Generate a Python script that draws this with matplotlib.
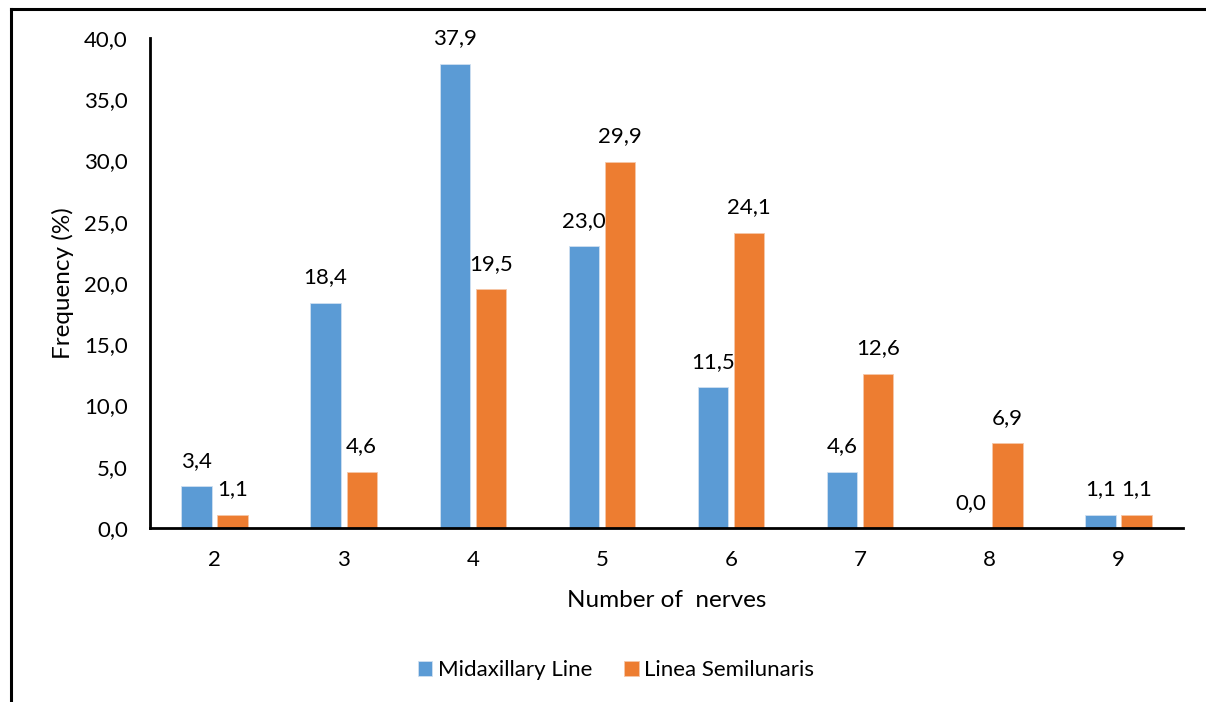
import numpy as np
import matplotlib.pyplot as plt
from matplotlib.lines import Line2D

plt.rcParams['font.family'] = ['Lato', 'DejaVu Sans']

categories = ['2', '3', '4', '5', '6', '7', '8', '9']
midaxillary = [3.4, 18.4, 37.9, 23.0, 11.5, 4.6, 0.0, 1.1]
semilunaris = [1.1, 4.6, 19.5, 29.9, 24.1, 12.6, 6.9, 1.1]
series_names = ['Midaxillary Line', 'Linea Semilunaris']
colors = ['#5B9BD5', '#ED7D31']

fig = plt.figure(figsize=(12.06, 7.02), dpi=100)
ax = fig.add_axes([150 / 1206, 1 - 528 / 702, (1183 - 150) / 1206, (528 - 38) / 702])

x = np.arange(len(categories))
w = 0.235
off = 0.14
b1 = ax.bar(x - off, midaxillary, w, color=colors[0], edgecolor='#cfe0f1', linewidth=0.6, label=series_names[0])
b2 = ax.bar(x + off, semilunaris, w, color=colors[1], edgecolor='#f6c7a8', linewidth=0.6, label=series_names[1])

for bars, vals in ((b1, midaxillary), (b2, semilunaris)):
    for b, v in zip(bars, vals):
        ax.annotate(f'{v:.1f}'.replace('.', ','), (b.get_x() + b.get_width() / 2, v),
                    xytext=(0, 11), textcoords='offset points', ha='center', va='bottom',
                    fontsize=16, color='black')

ax.set_xlim(-0.5, len(categories) - 0.5)
ax.set_ylim(0, 40)
ax.set_yticks(np.arange(0, 41, 5))
ax.set_yticklabels([f'{t:.1f}'.replace('.', ',') for t in np.arange(0, 41, 5)])
ax.set_xticks(x)
ax.set_xticklabels(categories)
ax.tick_params(axis='both', length=0, labelsize=16, colors='black')
ax.tick_params(axis='x', pad=16)
ax.tick_params(axis='y', pad=16)
for s in ['top', 'right']:
    ax.spines[s].set_visible(False)
for s in ['left', 'bottom']:
    ax.spines[s].set_linewidth(2)
    ax.spines[s].set_color('black')

ax.set_xlabel('Number of  nerves', fontsize=17.5, labelpad=14)
ax.set_ylabel('Frequency (%)', fontsize=17.5, labelpad=7)

fig.legend(handles=[b1, b2], loc='center', bbox_to_anchor=(616 / 1206, 1 - 670 / 702), ncol=2,
           frameon=False, fontsize=16, handlelength=0.65, handleheight=0.65,
           columnspacing=1.45, handletextpad=0.25)

# outer frame (left and top edges)
fig.add_artist(Line2D([11 / 1206, 11 / 1206], [0, 1 - 9 / 702], color='black', lw=2.2, transform=fig.transFigure))
fig.add_artist(Line2D([11 / 1206, 1], [1 - 9 / 702, 1 - 9 / 702], color='black', lw=2.2, transform=fig.transFigure))

fig.savefig('out.png', dpi=100, facecolor='white')
